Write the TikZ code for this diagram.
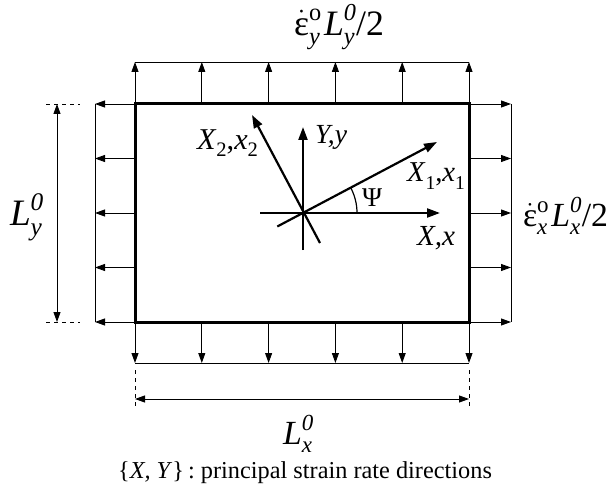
\documentclass[tikz,border=0pt]{standalone}
\usepackage{fontspec}
\setmainfont{Liberation Serif}
\usetikzlibrary{arrows.meta}
\newcommand\mysup[1]{\raisebox{0.42em}{\fontsize{17}{20}\selectfont #1}}
\newcommand\mysub[1]{\raisebox{-0.25em}{\fontsize{17}{20}\selectfont #1}}
\newcommand\mysupsub[2]{\makebox[0pt][l]{\mysup{#1}}\mysub{#2}}
\newcommand\epsdot{$\dot{\mbox{ε}}$}
\begin{document}
\begin{tikzpicture}[x=1bp,y=-1bp,
  thinline/.style={line width=0.9bp,black},
  load/.style={thinline,-{Triangle[length=10bp,width=7bp]}},
  dimarrow/.style={thinline,{Triangle[length=10bp,width=7bp]}-{Triangle[length=10bp,width=7bp]}},
  dimdash/.style={line width=0.9bp,dash pattern=on 4bp off 4bp},
  axis/.style={line width=2.2bp,-{Triangle[length=13bp,width=9bp]}},
  lbl/.style={font=\fontsize{25}{30}\selectfont,inner sep=0pt},
  caplbl/.style={font=\fontsize{24.4}{29}\selectfont,inner sep=0pt}]
\useasboundingbox (0,0) rectangle (609,494);
% corner coordinates
\coordinate (TL) at (135,104);
\coordinate (TR) at (469,104);
\coordinate (BL) at (135,322);
\coordinate (BR) at (469,322);
% top and bottom loads
\foreach \i in {0,...,5}{
  \pgfmathsetmacro{\xx}{135+\i*66.8}
  \coordinate (t\i) at (\xx,104);
  \coordinate (tt\i) at (\xx,62);
  \coordinate (b\i) at (\xx,322);
  \coordinate (bb\i) at (\xx,363);
  \draw[load] (t\i) -- (tt\i);
  \draw[load] (b\i) -- (bb\i);
}
\draw[thinline] (tt0) -- (tt5);
\draw[thinline] (bb0) -- (bb5);
% left and right loads
\foreach \j in {0,...,4}{
  \pgfmathsetmacro{\yy}{104+\j*54.5}
  \coordinate (l\j) at (135,\yy);
  \coordinate (ll\j) at (95,\yy);
  \coordinate (r\j) at (469,\yy);
  \coordinate (rr\j) at (511,\yy);
  \draw[load] (l\j) -- (ll\j);
  \draw[load] (r\j) -- (rr\j);
}
\draw[thinline] (ll0) -- (ll4);
\draw[thinline] (rr0) -- (rr4);
% plate
\draw[line width=3bp] (TL) rectangle (BR);
% dimension L_y
\coordinate (dy1a) at (46,104); \coordinate (dy1b) at (80,104);
\coordinate (dy2a) at (46,322); \coordinate (dy2b) at (80,322);
\draw[dimdash] (dy1a) -- (dy1b);
\draw[dimdash] (dy2a) -- (dy2b);
\coordinate (dyt) at (57,104); \coordinate (dyb) at (57,322);
\draw[dimarrow] (dyt) -- (dyb);
% dimension L_x
\coordinate (dx1a) at (135,370); \coordinate (dx1b) at (135,410);
\coordinate (dx2a) at (469,370); \coordinate (dx2b) at (469,410);
\draw[dimdash] (dx1a) -- (dx1b);
\draw[dimdash] (dx2a) -- (dx2b);
\coordinate (dxl) at (135,399); \coordinate (dxr) at (469,399);
\draw[dimarrow] (dxl) -- (dxr);
% axes
\coordinate (O) at (303,213);
\coordinate (Xb) at (260,213); \coordinate (Xe) at (440,213);
\coordinate (Yb) at (303,250); \coordinate (Ye) at (303,127);
\coordinate (X1b) at (277.3,226.5); \coordinate (X1e) at (437,142);
\coordinate (X2b) at (320,243); \coordinate (X2e) at (252,115);
\draw[axis] (Xb) -- (Xe);
\draw[axis] (Yb) -- (Ye);
\draw[axis] (X1b) -- (X1e);
\draw[axis] (X2b) -- (X2e);
\draw[line width=1.2bp] (357,213) arc[start angle=0,end angle=-27.7,radius=54];
% labels
\node[lbl] (ly) at (331,137) {\resizebox{32bp}{!}{\textit{Y,y}}};
\node[lbl] (lx2) at (227.5,143) {\resizebox{61bp}{!}{\textit{X}\mysub{2},\textit{x}\mysub{2}}};
\node[lbl] (lx1) at (436,176) {\resizebox{58bp}{!}{\textit{X}\mysub{1},\textit{x}\mysub{1}}};
\node[lbl] (lpsi) at (372,198) {\resizebox{20bp}{!}{Ψ}};
\node[lbl] (lx) at (436,238) {\resizebox{38bp}{!}{\textit{X,x}}};
\node[lbl] (ltop) at (339,27) {\resizebox{90bp}{!}{\epsdot\mysupsub{o}{\textit{y}}\hspace{3bp}\textit{L}\mysupsub{\textit{0}}{\textit{y}}\hspace{1bp}/2}};
\node[lbl] (lright) at (565.5,216) {\resizebox{85bp}{!}{\epsdot\mysupsub{o}{\textit{x}}\hspace{3bp}\textit{L}\mysupsub{\textit{0}}{\textit{x}}\hspace{1bp}/2}};
\node[lbl] (lLy) at (26,217) {\resizebox{32bp}{!}{\textit{L}\mysupsub{\textit{0}}{\textit{y}}}};
\node[lbl] (lLx) at (297.5,434) {\resizebox{29bp}{!}{\textit{L}\mysupsub{\textit{0}}{\textit{x}}}};
\node[caplbl] (cap) at (305,473) {\{\textit{X, Y}\}\,: principal strain rate directions};
\end{tikzpicture}
\end{document}
